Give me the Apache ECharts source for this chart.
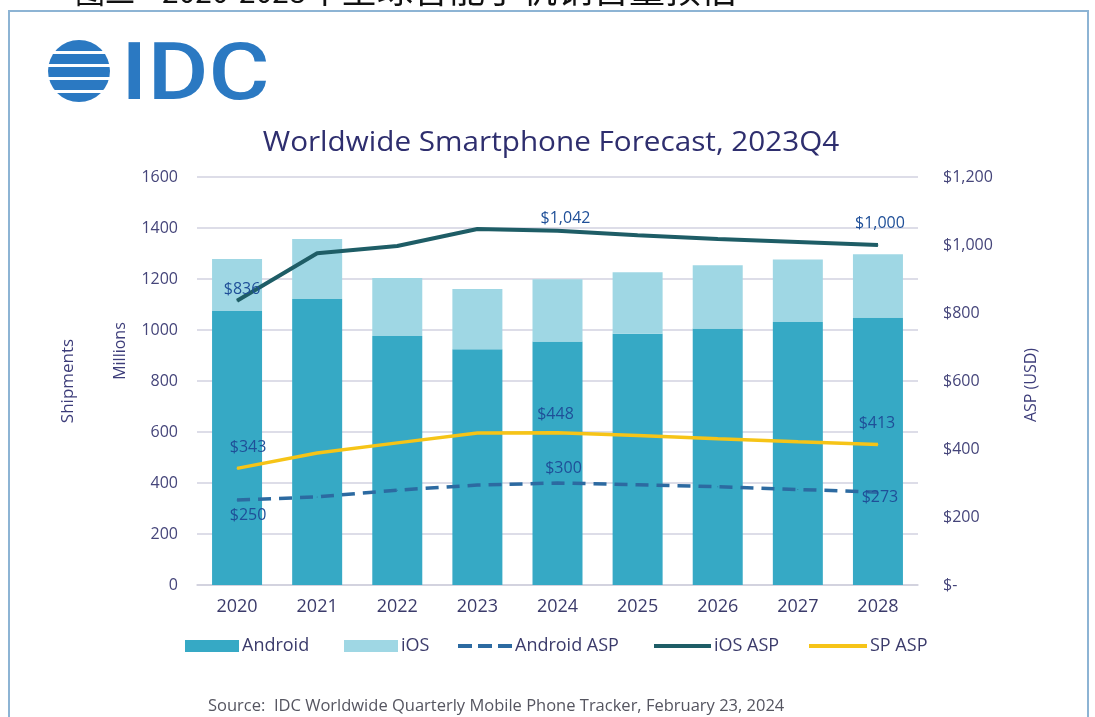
<!DOCTYPE html>
<html>
<head>
<meta charset="utf-8">
<title>Worldwide Smartphone Forecast, 2023Q4</title>
<script src="https://cdn.jsdelivr.net/npm/echarts@6/dist/echarts.min.js"></script>
<style>
    html, body { margin: 0; padding: 0; background: #fff; }
    #chart { width: 1095px; height: 717px; }
</style>
</head>
<body>
<div id="chart"></div>
<script>
// data
var years = ['2020', '2021', '2022', '2023', '2024', '2025', '2026', '2027', '2028'];
var androidUnits = [1075, 1122, 976, 925, 955, 985, 1006, 1031, 1049];   // millions
var iosUnits = [203, 235, 228, 236, 244, 241, 248, 245, 248];
var androidAsp = [250, 259, 279, 294, 300, 295, 289, 281, 273];         // USD
var iosAsp = [836, 976, 997, 1047, 1042, 1029, 1018, 1009, 1000];
var spAsp = [343, 388, 418, 447, 448, 440, 430, 421, 413];
var unitTicks = [0, 200, 400, 600, 800, 1000, 1200, 1400, 1600];
var aspTicks = [0, 200, 400, 600, 800, 1000, 1200];

var font = '"Open Sans", "Noto Sans", sans-serif';
var axisText = '#45457a';

function money(v) {
    return v === 0 ? '$-' : '$' + v.toLocaleString('en-US');
}

// only a few points carry a value label; offsets say where the text sits
function labelled(values, offsets, color) {
    return values.map(function (v, i) {
        if (!offsets[i]) return v;
        return {
            value: v,
            label: {
                show: true,
                position: 'inside',
                offset: offsets[i],
                color: color,
                fontSize: 16,
                fontFamily: font,
                formatter: function (p) { return money(p.value); }
            }
        };
    });
}

var mayChart = echarts.init(document.getElementById('chart'));

var legendBase = {
    top: 632,
    itemWidth: 54,
    itemHeight: 12,
    selectedMode: false,
    textStyle: { color: '#3b3b6b', fontSize: 18, fontFamily: font, padding: [0, 0, 0, -2] }
};
function legendAt(name, left, extra) {
    return Object.assign({}, legendBase, { data: [name], left: left }, extra || {});
}

var option = {
    animation: false,
    backgroundColor: '#ffffff',
    grid: {
        left: 197,
        right: 177,
        top: 177,
        bottom: 132,
        containLabel: false,
        outerBoundsMode: 'none'
    },
    legend: [
        legendAt('Android', 180, { icon: 'rect' }),
        legendAt('iOS', 339, { icon: 'rect' }),
        legendAt('Android ASP', 453, { itemHeight: 4, icon: 'path://M0,0h14v4h-14z M20,0h14v4h-14z M40,0h14v4h-14z' }),
        legendAt('iOS ASP', 649, { itemWidth: 57, itemHeight: 4, icon: 'rect' }),
        legendAt('SP ASP', 804, { itemWidth: 58, itemHeight: 4, icon: 'rect' })
    ],
    xAxis: {
        type: 'category',
        data: years,
        axisTick: { show: false },
        axisLine: { lineStyle: { color: '#cfcfdc', width: 1.5 } },
        axisLabel: { color: '#3b3b6b', fontSize: 18, fontFamily: font, margin: 13 }
    },
    yAxis: [
        {
            type: 'value',
            min: unitTicks[0],
            max: unitTicks[unitTicks.length - 1],
            interval: unitTicks[1] - unitTicks[0],
            axisLabel: { color: axisText, fontSize: 16, fontFamily: font, margin: 19, formatter: function (v) { return String(v); } },
            splitLine: { lineStyle: { color: '#d2d2e0', width: 1.5 } }
        },
        {
            type: 'value',
            min: aspTicks[0],
            max: aspTicks[aspTicks.length - 1],
            interval: aspTicks[1] - aspTicks[0],
            axisLabel: { color: axisText, fontSize: 16, fontFamily: font, margin: 25, formatter: money },
            splitLine: { show: false }
        }
    ],
    series: [
        {
            name: 'Android',
            type: 'bar',
            stack: 'units',
            barWidth: 50,
            color: '#36a9c5',
            data: androidUnits
        },
        {
            name: 'iOS',
            type: 'bar',
            stack: 'units',
            barWidth: 50,
            color: '#9fd7e4',
            data: iosUnits
        },
        {
            name: 'Android ASP',
            type: 'line',
            yAxisIndex: 1,
            color: '#2c6aa1',
            symbol: 'circle',
            symbolSize: 1,
            lineStyle: { width: 3.5, type: [13, 8] },
            data: labelled(androidAsp, { 0: [11, 15], 4: [6, -15], 8: [2, 5] }, '#1f4f98')
        },
        {
            name: 'iOS ASP',
            type: 'line',
            yAxisIndex: 1,
            color: '#1e5d66',
            symbol: 'circle',
            symbolSize: 1,
            lineStyle: { width: 4 },
            data: labelled(iosAsp, { 0: [5, -11], 4: [8, -12], 8: [2, -22] }, '#1f4f98')
        },
        {
            name: 'SP ASP',
            type: 'line',
            yAxisIndex: 1,
            color: '#f6c417',
            symbol: 'circle',
            symbolSize: 1,
            lineStyle: { width: 3.5 },
            data: labelled(spAsp, { 0: [11, -21], 4: [-2, -18], 8: [-1, -21] }, '#1f4f98')
        }
    ],
    graphic: [
        // frame around the figure
        {
            type: 'rect',
            shape: { x: 9, y: 11, width: 1079, height: 730 },
            style: { fill: 'none', stroke: '#8db4d4', lineWidth: 2 },
            z: 100
        },
        // caption above the frame, mostly cut off
        { type: 'text', x: 75, y: 7, style: { text: '图二', font: '30px "Noto Sans CJK SC"', fill: '#111', textVerticalAlign: 'bottom' } },
        { type: 'text', x: 162, y: 7, style: { text: '2020-2028', font: '30px "Noto Sans CJK SC"', fill: '#111', textVerticalAlign: 'bottom' } },
        { type: 'text', x: 305, y: 7, style: { text: '年全球智能手机销售量预估', font: '36px "Noto Sans CJK SC"', fill: '#111', textVerticalAlign: 'bottom' } },
        // IDC logo
        { type: 'circle', shape: { cx: 79, cy: 71, r: 31 }, style: { fill: '#2b79c2' } },
        { type: 'rect', shape: { x: 44, y: 51, width: 72, height: 3 }, style: { fill: '#fff' } },
        { type: 'rect', shape: { x: 44, y: 64, width: 72, height: 3 }, style: { fill: '#fff' } },
        { type: 'rect', shape: { x: 44, y: 77, width: 72, height: 3 }, style: { fill: '#fff' } },
        { type: 'rect', shape: { x: 44, y: 90, width: 72, height: 3 }, style: { fill: '#fff' } },
        { type: 'text', x: 121, y: 79, scaleX: 1.17, style: { text: 'IDC', font: '500 80px Roboto', fill: '#2b79c2', textVerticalAlign: 'middle' } },
        // title
        { type: 'text', x: 551, y: 143, scaleX: 1.06, style: { text: 'Worldwide Smartphone Forecast, 2023Q4', font: '28px ' + font, fill: '#2e2e6e', textAlign: 'center', textVerticalAlign: 'middle' } },
        // axis names
        { type: 'text', x: 68, y: 381, rotation: Math.PI / 2, style: { text: 'Shipments', font: '17px ' + font, fill: '#3d3d7a', textAlign: 'center', textVerticalAlign: 'middle' } },
        { type: 'text', x: 120, y: 351, rotation: Math.PI / 2, style: { text: 'Millions', font: '16px ' + font, fill: '#3d3d7a', textAlign: 'center', textVerticalAlign: 'middle' } },
        { type: 'text', x: 1031, y: 385, rotation: Math.PI / 2, style: { text: 'ASP (USD)', font: '16px ' + font, fill: '#3d3d7a', textAlign: 'center', textVerticalAlign: 'middle' } },
        // source
        { type: 'text', x: 208, y: 706, style: { text: 'Source:  IDC Worldwide Quarterly Mobile Phone Tracker, February 23, 2024', font: '16.5px ' + font, fill: '#555560', textVerticalAlign: 'middle' } }
    ]
};
mayChart.setOption(option);
</script>
</body>
</html>
